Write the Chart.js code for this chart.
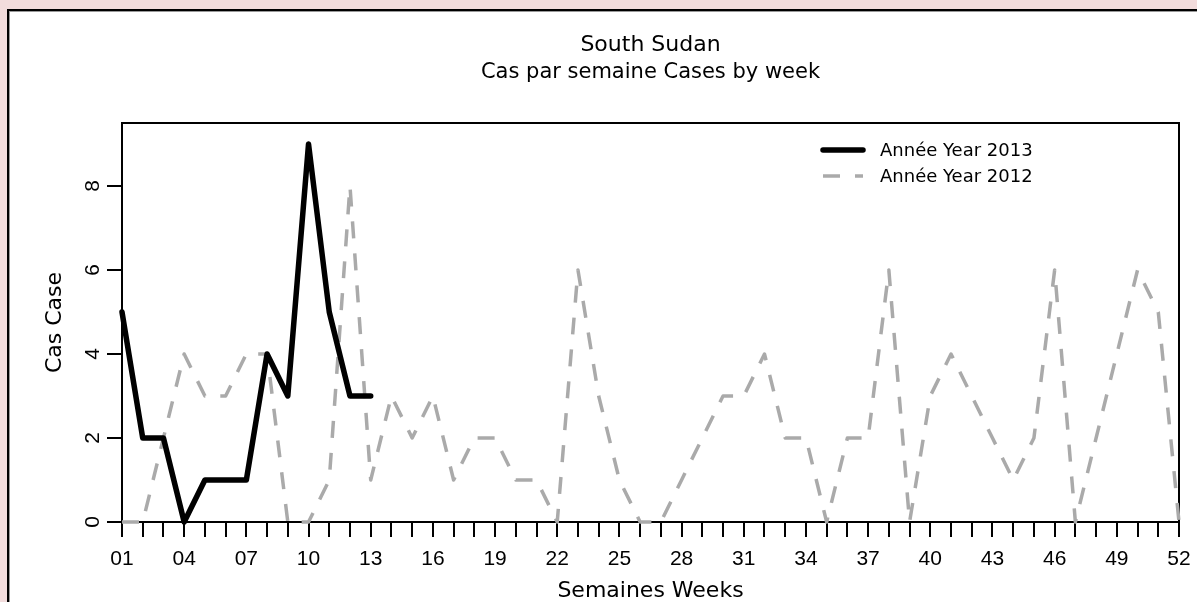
<!DOCTYPE html>
<html>
<head>
<meta charset="utf-8">
<script src="https://cdn.jsdelivr.net/npm/chart.js@4.4.1/dist/chart.umd.min.js"></script>
<style>
html, body { margin: 0; padding: 0; background: #f2dcdc; overflow: hidden; width: 1197px; height: 602px; }
#panel { position: absolute; left: 7px; top: 9px; width: 1300px; height: 700px; background: #fff;
         border-left: 2px solid #000; border-top: 2px solid #000; box-shadow: inset 1px 1px 0 #999; }
#chart { position: absolute; left: 0; top: 0; }
</style>
</head>
<body>
<div id="panel"></div>
<canvas id="chart" width="1197" height="602"></canvas>
<script>
// weeks on the x axis
const weeks = ['01','02','03','04','05','06','07','08','09','10','11','12','13',
               '14','15','16','17','18','19','20','21','22','23','24','25','26',
               '27','28','29','30','31','32','33','34','35','36','37','38','39',
               '40','41','42','43','44','45','46','47','48','49','50','51','52'];
// cases per week
const cases2013 = [5, 2, 2, 0, 1, 1, 1, 4, 3, 9, 5, 3, 3];
const cases2012 = [0, 0, 2, 4, 3, 3, 4, 4, 0, 0, 1, 8, 1, 3, 2, 3, 1, 2, 2, 1, 1, 0, 6, 3, 1, 0,
                   0, 1, 2, 3, 3, 4, 2, 2, 0, 2, 2, 6, 0, 3, 4, 3, 2, 1, 2, 6, 0, 2, 4, 6, 5, 0];
const yTicks = [0, 2, 4, 6, 8];
const seriesNames = ['Année Year 2013', 'Année Year 2012'];
const chartTitle = ['South Sudan', 'Cas par semaine Cases by week'];
const xTitle = 'Semaines Weeks';
const yTitle = 'Cas Case';

const textFont = '"DejaVu Sans", sans-serif';

const extras = {
    id: 'extras',
    beforeDatasetsDraw(chart) {
        const {ctx, chartArea: a} = chart;
        ctx.save();
        ctx.strokeStyle = '#000';
        ctx.lineWidth = 2;
        ctx.strokeRect(a.left, a.top, a.right - a.left, a.bottom - a.top);
        ctx.restore();
    },
    afterDraw(chart) {
        const {ctx, chartArea: a} = chart;
        const cx = (a.left + a.right) / 2;
        ctx.save();
        ctx.fillStyle = '#000';
        ctx.textAlign = 'center';
        ctx.textBaseline = 'middle';
        ctx.font = '22px ' + textFont;
        ctx.fillText(chartTitle[0], cx, 45);
        ctx.font = '21px ' + textFont;
        ctx.fillText(chartTitle[1], cx, 73);
        ctx.font = '22px ' + textFont;
        ctx.fillText(xTitle, cx, 591);
        ctx.save();
        ctx.translate(55, (a.top + a.bottom) / 2);
        ctx.rotate(-Math.PI / 2);
        ctx.fillText(yTitle, 0, 0);
        ctx.restore();

        // legend
        const lx = a.right - 356;
        chart.data.datasets.forEach((ds, i) => {
            const ly = a.top + 27 + i * 26;
            ctx.save();
            ctx.strokeStyle = ds.borderColor;
            ctx.lineWidth = ds.borderWidth;
            ctx.lineCap = ds.borderCapStyle;
            ctx.setLineDash(ds.borderDash || []);
            ctx.beginPath();
            ctx.moveTo(lx, ly);
            ctx.lineTo(lx + 40, ly);
            ctx.stroke();
            ctx.restore();
            ctx.textAlign = 'left';
            ctx.font = '18px ' + textFont;
            ctx.fillText(ds.label, lx + 57, ly + 1);
        });
        ctx.restore();
    }
};

new Chart(document.getElementById('chart'), {
    type: 'line',
    data: {
        labels: weeks,
        datasets: [{
            label: seriesNames[0],
            data: cases2013,
            borderColor: '#000',
            borderWidth: 5.5,
            borderCapStyle: 'round',
            borderJoinStyle: 'round',
            pointRadius: 0,
            tension: 0,
            clip: 4
        }, {
            label: seriesNames[1],
            data: cases2012,
            borderColor: '#aaaaaa',
            borderWidth: 3.5,
            borderDash: [17, 15],
            borderCapStyle: 'butt',
            borderJoinStyle: 'round',
            pointRadius: 0,
            tension: 0,
            clip: 4
        }]
    },
    options: {
        responsive: false,
        animation: false,
        events: [],
        layout: { padding: { left: 0, top: 123, right: 18, bottom: 0 } },
        plugins: { legend: { display: false }, title: { display: false }, tooltip: { enabled: false } },
        scales: {
            x: {
                type: 'category',
                offset: false,
                afterFit: s => { s.height = 80; s.paddingLeft = 0; s.paddingRight = 0; },
                grid: { drawOnChartArea: false, drawTicks: true, tickLength: 15, color: '#000', lineWidth: 2 },
                border: { display: true, color: '#000', width: 2 },
                ticks: {
                    autoSkip: false, maxRotation: 0, minRotation: 0, padding: 10,
                    color: '#000', font: { family: 'Liberation Sans', size: 21 },
                    callback: (v, i) => i % 3 === 0 ? weeks[i] : ''
                }
            },
            y: {
                min: 0,
                max: 9.5,
                afterFit: s => { s.width = 122; s.paddingTop = 0; s.paddingBottom = 0; },
                afterBuildTicks: s => { s.ticks = yTicks.map(v => ({ value: v })); },
                grid: { drawOnChartArea: false, drawTicks: true, tickLength: 15, color: '#000', lineWidth: 2 },
                border: { display: true, color: '#000', width: 2 },
                ticks: {
                    minRotation: 90, maxRotation: 90, crossAlign: 'center', padding: 8,
                    color: '#000', font: { family: 'Liberation Sans', size: 21 }
                }
            }
        }
    },
    plugins: [extras]
});
</script>
</body>
</html>
